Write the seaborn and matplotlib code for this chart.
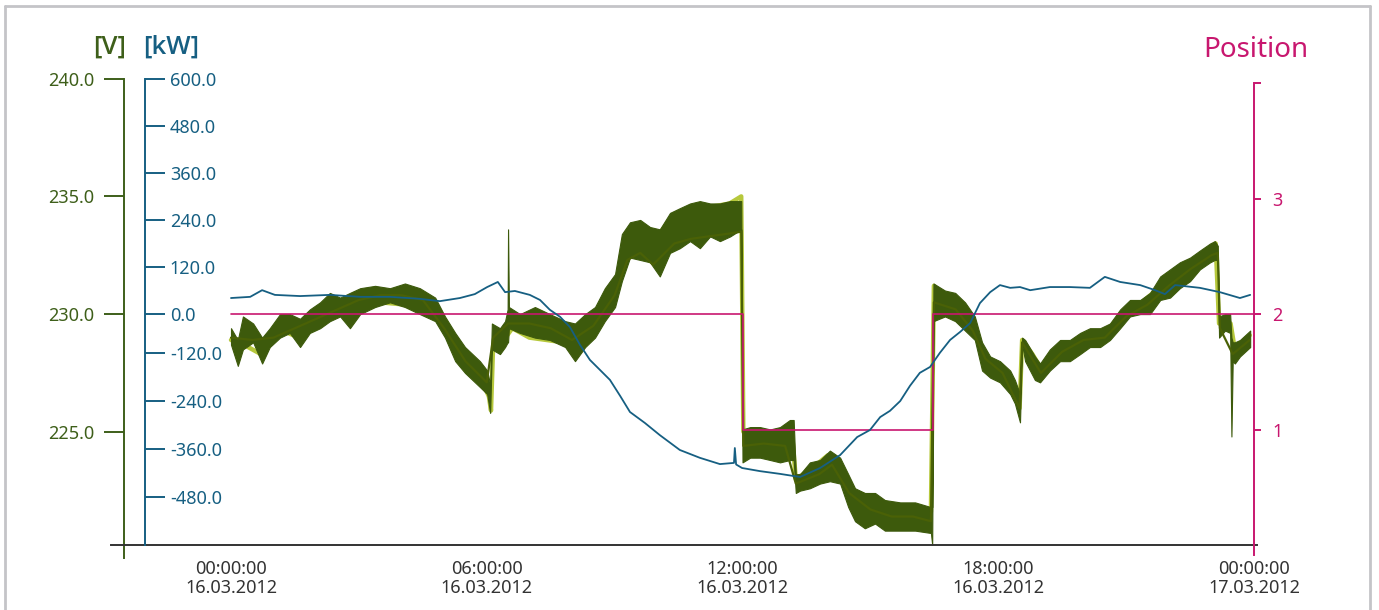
import matplotlib
matplotlib.use("Agg")
import matplotlib.pyplot as plt
from matplotlib.lines import Line2D
from matplotlib.ticker import FormatStrFormatter
import pandas as pd
import seaborn as sns

# ---- data (hours since 16.03.2012 00:00) ----
volt_t = [0.00, 0.16, 0.28, 0.52, 0.73, 0.91, 1.15, 1.38, 1.62, 1.85, 2.09, 2.32, 2.56, 2.79,
          3.03, 3.38, 3.73, 4.08, 4.43, 4.79, 5.02, 5.26, 5.49, 5.84, 6.01, 6.08, 6.12, 6.31,
          6.43, 6.49, 6.50, 6.52, 6.78, 7.13, 7.48, 7.84, 8.07, 8.31, 8.54, 8.77, 9.01, 9.17,
          9.36, 9.60, 9.83, 10.06, 10.30, 10.53, 10.77, 11.00, 11.24, 11.47, 11.71, 11.97,
          12.00, 12.18, 12.41, 12.65, 12.88, 13.11, 13.20, 13.25, 13.35, 13.58, 13.82, 14.05,
          14.29, 14.48, 14.64, 14.87, 15.11, 15.34, 15.70, 16.05, 16.42, 16.45, 16.48, 16.75,
          16.99, 17.22, 17.45, 17.62, 17.81, 18.04, 18.28, 18.39, 18.51, 18.56, 18.63, 18.86,
          18.98, 19.21, 19.45, 19.68, 19.92, 20.15, 20.39, 20.62, 20.86, 21.09, 21.33, 21.56,
          21.80, 22.03, 22.26, 22.50, 22.73, 22.97, 23.08, 23.15, 23.18, 23.32, 23.44, 23.47,
          23.50, 23.55, 23.67, 23.91]
volt_hi = [229.4, 228.9, 229.9, 229.6, 229.0, 229.4, 230.0, 230.0, 229.8, 230.2, 230.5, 230.9, 230.7, 230.9,
           231.1, 231.2, 231.1, 231.3, 231.1, 230.7, 229.9, 229.2, 228.6, 228.0, 227.6, 227.0, 229.6, 229.4,
           229.7, 230.2, 233.6, 230.3, 230.0, 230.3, 230.0, 229.7, 229.6, 230.0, 230.3, 231.1, 231.7, 233.4,
           233.9, 234.0, 233.7, 233.6, 234.3, 234.5, 234.7, 234.8, 234.7, 234.7, 234.8, 234.8,
           225.1, 225.2, 225.2, 225.1, 225.2, 225.5, 225.5, 223.2, 223.2, 223.7, 223.8, 224.2,
           223.9, 223.2, 222.6, 222.4, 222.4, 222.1, 222.0, 222.0, 221.8, 221.8, 231.3, 231.0,
           230.9, 230.5, 229.9, 228.8, 228.2, 228.0, 227.6, 227.2, 226.6, 229.0, 228.9, 228.2,
           227.9, 228.5, 228.9, 228.9, 229.2, 229.4, 229.4, 229.6, 230.2, 230.6, 230.6, 230.9,
           231.6, 231.9, 232.2, 232.4, 232.7, 233.0, 233.1, 232.9, 229.9, 230.0, 230.0, 229.0,
           228.8, 228.8, 228.9, 229.3]
volt_lo = [228.7, 227.8, 228.5, 228.8, 227.9, 228.6, 229.0, 229.2, 228.6, 229.2, 229.4, 229.7, 229.9, 229.4,
           230.0, 230.3, 230.5, 230.3, 230.0, 229.7, 229.0, 228.0, 227.5, 226.9, 226.6, 225.8, 228.5, 228.3,
           228.6, 228.8, 228.8, 229.4, 229.2, 229.0, 228.9, 228.6, 228.0, 228.6, 229.0, 229.7, 230.3, 231.4,
           232.4, 232.3, 232.2, 231.6, 232.6, 232.8, 233.1, 232.8, 233.3, 233.1, 233.3, 233.6,
           223.7, 223.9, 223.9, 223.8, 223.7, 223.8, 223.8, 222.4, 222.5, 222.6, 222.8, 222.9,
           222.8, 221.8, 221.2, 220.9, 221.1, 220.8, 220.8, 220.8, 220.7, 220.2, 229.7, 229.9,
           229.7, 229.3, 228.9, 227.6, 227.3, 227.1, 226.6, 226.2, 225.4, 228.7, 228.0, 227.2,
           227.1, 227.6, 228.0, 228.0, 228.3, 228.6, 228.6, 228.9, 229.4, 229.9, 230.0, 230.0,
           230.6, 230.7, 231.1, 231.4, 231.9, 232.2, 232.3, 232.3, 229.0, 229.3, 229.2, 224.8,
           228.0, 227.9, 228.2, 228.6]

yellow_t = [0.0, 0.3, 0.7, 1.2, 1.6, 2.1, 2.6, 3.0, 3.5, 4.1, 4.5, 4.8, 5.1, 5.5, 5.9, 6.05, 6.1,
            6.15, 6.4, 6.6, 7.0, 7.4, 7.8, 8.1, 8.4, 8.7, 9.0, 9.2, 9.4, 9.7, 10.0, 10.3, 10.6,
            11.0, 11.4, 11.7, 11.97, 12.02, 12.4, 12.9, 13.15, 13.25, 13.6, 14.0, 14.3, 14.6,
            15.0, 15.5, 16.0, 16.42, 16.49, 16.8, 17.2, 17.5, 17.8, 18.1, 18.4, 18.5, 18.56,
            18.8, 19.0, 19.3, 19.7, 20.1, 20.5, 20.9, 21.3, 21.7, 22.1, 22.5, 22.9, 23.1, 23.18,
            23.45, 23.55, 23.9]
yellow_v = [228.9, 228.7, 228.3, 229.3, 229.0, 229.7, 230.1, 230.3, 230.5, 230.4, 230.2, 229.9, 229.0,
            227.8, 227.1, 226.5, 225.9, 228.7, 228.9, 229.4, 229.0, 228.9, 228.8, 228.3, 228.9, 229.7,
            230.6, 232.8, 233.6, 233.7, 233.3, 234.0, 234.3, 234.5, 234.6, 234.7, 235.0, 225.0, 224.8,
            224.7, 225.2, 223.0, 223.4, 224.0, 223.6, 222.5, 222.2, 221.9, 221.8, 221.6, 231.2, 230.7,
            230.0, 229.0, 227.9, 227.4, 226.8, 226.0, 228.9, 228.3, 227.7, 228.2, 228.6, 229.1, 229.2,
            230.0, 230.4, 231.0, 231.6, 232.1, 232.6, 233.0, 229.6, 229.6, 228.5, 229.1]

olive_t = [0.0, 0.5, 1.0, 1.5, 2.0, 2.5, 3.0, 3.5, 4.0, 4.5, 5.0, 5.5, 6.0, 6.15, 6.5, 7.0, 7.5,
           8.0, 8.5, 9.0, 9.3, 9.6, 9.9, 10.4, 10.8, 11.2, 11.6, 11.97, 12.02, 12.5, 13.0, 13.25,
           13.8, 14.1, 14.5, 15.0, 15.5, 16.0, 16.42, 16.49, 17.0, 17.4, 17.7, 18.1, 18.5, 18.56,
           19.0, 19.5, 20.0, 20.5, 21.0, 21.5, 22.0, 22.5, 23.0, 23.15, 23.2, 23.5, 23.9]
olive_v = [229.0, 228.9, 229.0, 229.4, 229.8, 230.2, 230.6, 230.8, 230.8, 230.6, 229.4, 228.0, 227.1,
           229.0, 229.6, 229.6, 229.4, 228.9, 229.5, 230.8, 232.3, 232.6, 232.1, 233.0, 233.2, 233.3,
           233.4, 233.5, 224.4, 224.5, 224.4, 222.8, 223.2, 223.6, 222.4, 221.7, 221.4, 221.4, 221.2,
           230.5, 230.2, 229.3, 228.1, 227.5, 226.0, 228.8, 227.5, 228.4, 228.9, 229.0, 229.9, 230.4,
           231.2, 231.9, 232.5, 232.6, 229.4, 228.3, 228.9]

power_t = [0.00, 0.45, 0.73, 1.03, 1.62, 2.32, 3.03, 3.73, 4.43, 4.90, 5.37, 5.72, 6.01, 6.26, 6.43,
           6.66, 7.01, 7.25, 7.48, 7.72, 7.95, 8.19, 8.42, 8.66, 8.89, 9.13, 9.36, 9.71, 10.06,
           10.53, 11.00, 11.47, 11.80, 11.82, 11.85, 11.99, 12.41, 12.88, 13.35, 13.82, 14.29,
           14.69, 14.99, 15.23, 15.46, 15.70, 15.93, 16.16, 16.40, 16.63, 16.87, 17.10, 17.34,
           17.57, 17.81, 18.04, 18.28, 18.51, 18.75, 19.21, 19.68, 20.15, 20.50, 20.86, 21.33,
           21.68, 21.91, 22.15, 22.73, 23.20, 23.67, 23.91]
power_kw = [40, 43, 60, 48, 45, 48, 43, 43, 38, 32, 40, 50, 68, 81, 55,
            58, 48, 35, 10, -8, -34, -80, -118, -144, -169, -210, -251, -279, -310,
            -348, -368, -384, -381, -343, -385, -394, -402, -409, -417, -394, -361,
            -315, -297, -264, -248, -223, -184, -151, -136, -100, -67, -47, -24,
            27, 55, 73, 66, 68, 60, 68, 68, 66, 94, 81, 73,
            60, 50, 73, 66, 55, 40, 48]

pos_t = [0.0, 12.0, 16.47, 24.0]
pos_v = [2, 1, 2, 2]

x_ticks = [0, 6, 12, 18, 24]
x_labels = ["00:00:00\n16.03.2012", "06:00:00\n16.03.2012", "12:00:00\n16.03.2012",
            "18:00:00\n16.03.2012", "00:00:00\n17.03.2012"]
v_ticks = [225, 230, 235, 240]
kw_ticks = [600, 480, 360, 240, 120, 0, -100, -222, -345, -467]
kw_labels = ["600.0", "480.0", "360.0", "240.0", "120.0", "0.0", "-120.0", "-240.0", "-360.0", "-480.0"]
pos_ticks = [1, 2, 3, 4]
pos_labels = ["1", "2", "3", ""]

# ---- style ----
sns.set_theme(style="white")
plt.rcParams["font.family"] = ["Noto Sans", "DejaVu Sans"]

DARK = "#3d5a0c"
OLIVE = "#4a6106"
YELLOW = "#b6c83c"
VCOL = "#3e5f1a"
BLUE = "#165f82"
MAGENTA = "#c8176f"
GREY = "#333333"

W, H = 1379, 610
fig = plt.figure(figsize=(W / 100, H / 100), dpi=100)
ax = fig.add_axes([111 / W, (H - 545) / H, 1146 / W, (545 - 78.7) / H])
ax2 = ax.twinx()
ax3 = ax.twinx()

# voltage (3 phases)
sns.lineplot(x=yellow_t, y=yellow_v, ax=ax, color=YELLOW, lw=3.2, zorder=1)
ax.fill_between(volt_t, volt_lo, volt_hi, color=DARK, lw=0.8, zorder=2)
sns.lineplot(x=olive_t, y=olive_v, ax=ax, color=OLIVE, lw=1.6, zorder=3)

# position (steps)
pos_df = pd.DataFrame({"t": pos_t, "pos": pos_v})
sns.lineplot(data=pos_df, x="t", y="pos", ax=ax3, color=MAGENTA, lw=1.2, drawstyle="steps-post")

# power
sns.lineplot(x=power_t, y=power_kw, ax=ax2, color=BLUE, lw=1.3)

ax3.set_zorder(ax.get_zorder() + 1)
ax2.set_zorder(ax.get_zorder() + 2)

# ---- axes ----
ax.set_xlim(-2.815, 24.07)
ax.set_ylim(220.19, 240)
ax2.set_ylim(-590.6, 600)
ax3.set_ylim(0, 4.04)

for a in (ax, ax2, ax3):
    a.set_xlabel("")
    a.set_ylabel("")
    for s in a.spines.values():
        s.set_visible(False)
    a.grid(False)

# V axis
sp = ax.spines["left"]
sp.set_visible(True)
sp.set_position(("axes", 13 / 1146))
sp.set_bounds(219.65, 240)
sp.set_color(VCOL)
sp.set_linewidth(1.4)
ax.set_yticks(v_ticks)
ax.yaxis.set_major_formatter(FormatStrFormatter("%.1f"))
ax.tick_params(axis="y", colors=VCOL, direction="out", length=14.4, width=1.4, pad=7, labelsize=13)

# x axis
sp = ax.spines["bottom"]
sp.set_visible(True)
sp.set_color(GREY)
sp.set_linewidth(1.4)
ax.set_xticks(x_ticks)
ax.set_xticklabels(x_labels, linespacing=1.1)
ax.tick_params(axis="x", colors=GREY, direction="inout", length=15, width=1.4, pad=3, labelsize=13)

# kW axis
sp = ax2.spines["right"]
sp.set_visible(True)
sp.set_position(("axes", 34 / 1146))
sp.set_color(BLUE)
sp.set_linewidth(1.4)
ax2.set_yticks(kw_ticks)
ax2.set_yticklabels(kw_labels)
ax2.tick_params(axis="y", colors=BLUE, direction="out", length=14.4, width=1.4, pad=3.5, labelsize=13)

# position axis
sp = ax3.spines["right"]
sp.set_visible(True)
sp.set_position(("data", 24))
sp.set_bounds(-0.09, 4)
sp.set_color(MAGENTA)
sp.set_linewidth(1.4)
ax3.set_yticks(pos_ticks)
ax3.set_yticklabels(pos_labels)
ax3.tick_params(axis="y", colors=MAGENTA, direction="out", length=5, width=1.4, pad=8, labelsize=13)

# titles (unit labels are semi-bold in the original)
unit_font = dict(family=["Open Sans", "Roboto", "DejaVu Sans"], fontsize=18.5, fontweight="semibold")
fig.text(126 / W, 1 - 47 / H, "[V]", ha="right", va="center", color=VCOL, **unit_font)
fig.text(143 / W, 1 - 47 / H, "[kW]", ha="left", va="center", color=BLUE, **unit_font)
fig.text(1256 / W, 1 - 50 / H, "Position", ha="center", va="center", color=MAGENTA, fontsize=20)

# light frame around the chart
frame = dict(color="#c4c4c8", lw=2, transform=fig.transFigure)
fig.add_artist(Line2D([5 / W, 5 / W], [0, 1 - 6 / H], **frame))
fig.add_artist(Line2D([5 / W, 1370 / W], [1 - 6 / H, 1 - 6 / H], **frame))
fig.add_artist(Line2D([1370 / W, 1370 / W], [0, 1 - 6 / H], **frame))

fig.savefig("out.png", dpi=100)
